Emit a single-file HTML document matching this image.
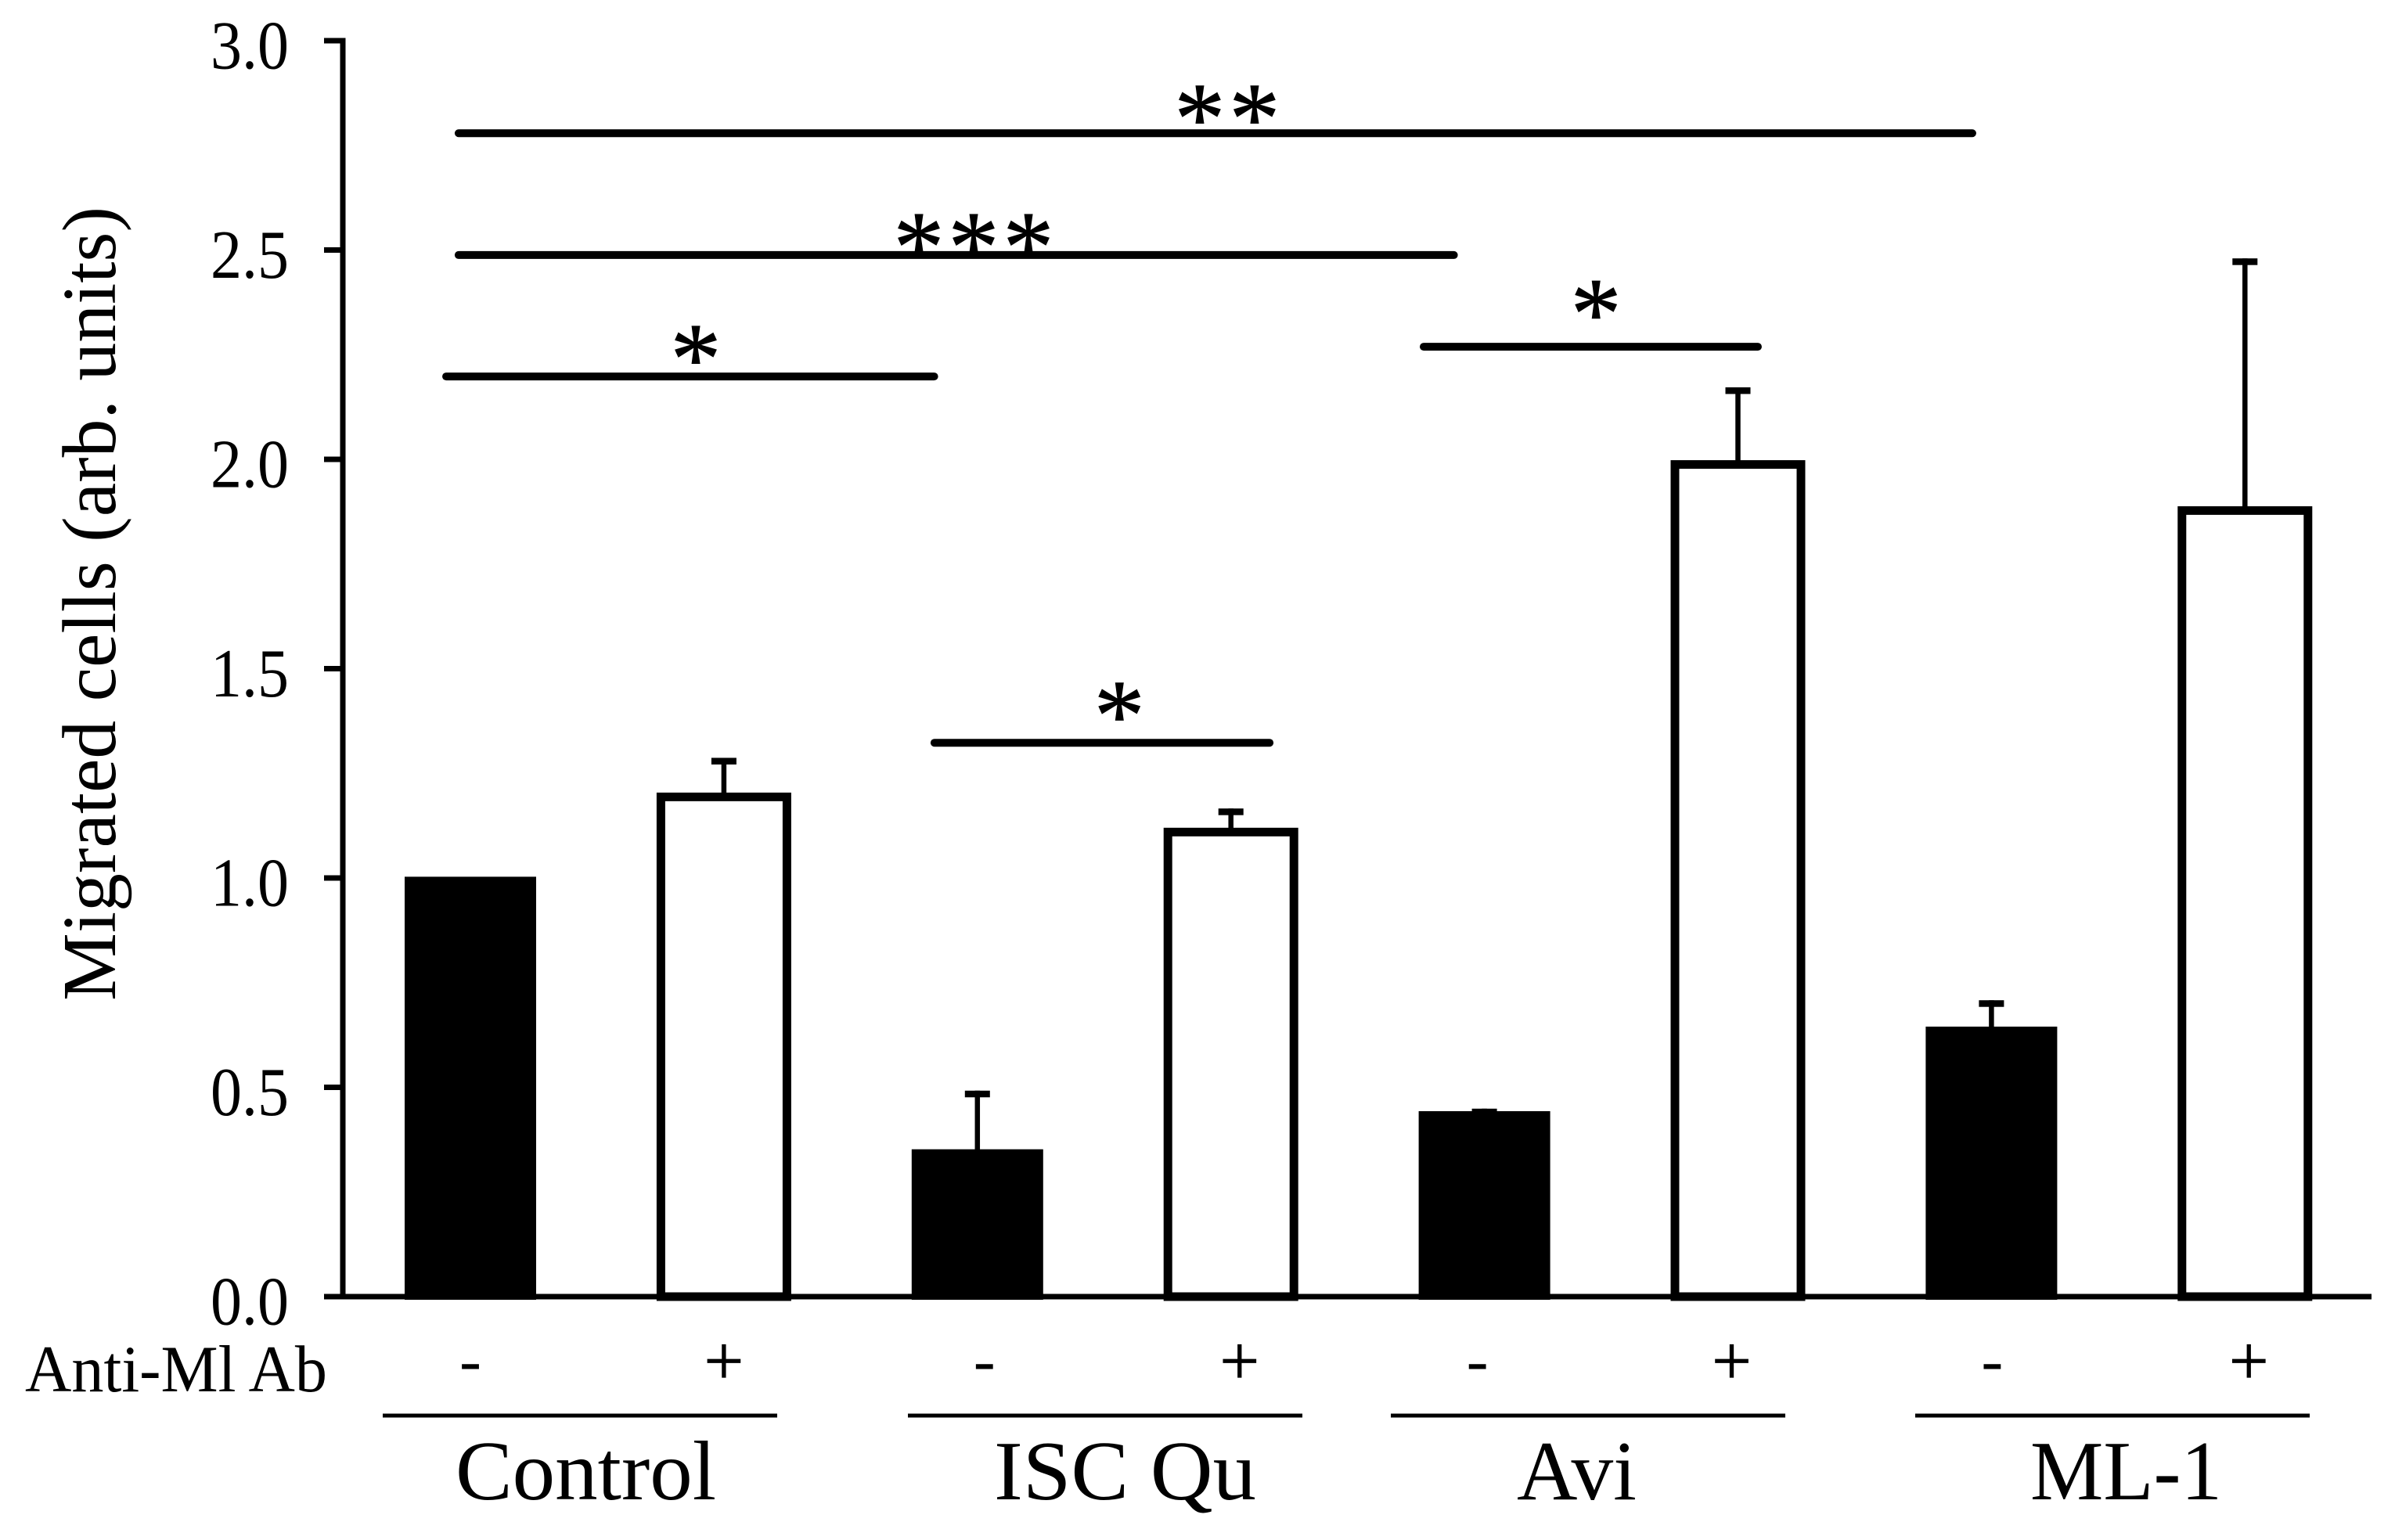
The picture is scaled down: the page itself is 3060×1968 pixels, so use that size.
<!DOCTYPE html>
<html lang="en">
<head>
<meta charset="utf-8">
<title>Migrated cells bar chart</title>
<style>
html,body{margin:0;padding:0;background:#fff;width:3060px;height:1968px;overflow:hidden}
svg{display:block}
text{font-family:"Liberation Serif",serif;fill:#000}
</style>
</head>
<body>
<svg id="chart" xmlns="http://www.w3.org/2000/svg" width="3060" height="1968" viewBox="0 0 3060 1968">
  <rect x="0" y="0" width="3060" height="1968" fill="#fff"/>
  <text transform="translate(147,1279) rotate(-90)" font-size="97" textLength="1015" lengthAdjust="spacingAndGlyphs">Migrated cells (arb. units)</text>
  <text x="32" y="1778" font-size="85" textLength="386" lengthAdjust="spacingAndGlyphs">Anti-Ml Ab</text>
  <g id="plot"></g>
</svg>
<script>
const groupNames = ["Control", "ISC Qu", "Avi", "ML-1"];
const antibodySigns = ["-", "+", "-", "+", "-", "+", "-", "+"];
const barMeans = [1.003, 1.204, 0.352, 1.12, 0.443, 1.998, 0.645, 1.888];
const errorTops = [1.003, 1.287, 0.492, 1.166, 0.449, 2.172, 0.708, 2.48];
const yTickValues = [0, 0.5, 1.0, 1.5, 2.0, 2.5, 3.0];
const yTickLabels = ["0.0", "0.5", "1.0", "1.5", "2.0", "2.5", "3.0"];
const sigStars = ["**", "***", "*", "*", "*"];
const sigLevels = [2.779, 2.488, 2.198, 1.323, 2.269];
const sigFrom = [-0.062, -0.062, -0.111, 1.815, 3.745];
const sigTo = [5.94, 3.895, 1.845, 3.168, 5.094];
const sigStarAt = [2.985, 1.985, 0.889, 2.56, 4.44];
const sigStarLevels = [2.845, 2.538, 2.271, 1.419, 2.379];

const NS = "http://www.w3.org/2000/svg";
const plot = document.getElementById("plot");
const y0 = 1657, pxPerUnit = 535;
const x0 = 601, pxPerBar = 323.9;
const axisX = 438;
function yScale(v){ return y0 - v * pxPerUnit; }
function xScale(i){ return x0 + i * pxPerBar; }
function mk(tag, attrs, text){
  const el = document.createElementNS(NS, tag);
  for (const k in attrs) el.setAttribute(k, attrs[k]);
  if (text !== undefined) el.textContent = text;
  plot.appendChild(el);
  return el;
}

// bars and error bars
barMeans.forEach(function(v, i){
  const cx = xScale(i), top = yScale(v), filled = i % 2 === 0;
  const errY = yScale(errorTops[i]);
  if (errorTops[i] > v) {
    const whisker = mk("line", {x1: cx, x2: cx, y1: errY, y2: top + 2, stroke: "#000", "stroke-width": 6.5});
    
    
    const cap = mk("rect", {x: cx - 16, y: errY, width: 32, height: 8.5, fill: "#000"});
    
    
  }
  let bar;
  if (filled) {
    bar = mk("rect", {x: cx - 84, y: top, width: 168, height: y0 + 4 - top, fill: "#000"});
  } else {
    bar = mk("rect", {x: cx - 80.5, y: top + 5.5, width: 161, height: y0 - top - 5.5, fill: "#fff", stroke: "#000", "stroke-width": 11});
  }
  
  
});

// axes
const yAxis = mk("line", {x1: axisX, x2: axisX, y1: yScale(3) - 3.5, y2: y0 + 3.5, stroke: "#000", "stroke-width": 7});


const xAxis = mk("line", {x1: 414, x2: 3030, y1: y0, y2: y0, stroke: "#000", "stroke-width": 7});



yTickValues.forEach(function(v, i){
  const y = yScale(v);
  const tick = mk("line", {x1: 414, x2: axisX, y1: y, y2: y, stroke: "#000", "stroke-width": 7});
  
  
  const label = mk("text", {x: 269, y: y + 35.5, "font-size": 88, textLength: 100, lengthAdjust: "spacingAndGlyphs"}, yTickLabels[i]);
  
  
});

// antibody signs
const signShift = [0, 0, 9, 11, -9, -8, 1, 5];
antibodySigns.forEach(function(s, i){
  const plus = s === "+";
  const sign = mk("text", {x: xScale(i) + signShift[i], y: plus ? 1769 : 1766, "font-size": plus ? 90 : 84, "text-anchor": "middle", stroke: plus ? "#000" : "none", "stroke-width": plus ? 0.8 : 0}, s);
  
  
});

// group rules and labels
const groupRuleStart = [489, 1160, 1777, 2447];
const groupLabelStart = [582, 1270, 1938, 2594];
const groupLabelLength = [333, 335, 153, 245];
groupNames.forEach(function(name, i){
  const rule = mk("line", {x1: groupRuleStart[i], x2: groupRuleStart[i] + 504, y1: 1809, y2: 1809, stroke: "#000", "stroke-width": 5});
  
  
  const label = mk("text", {x: groupLabelStart[i], y: 1916, "font-size": 108, textLength: groupLabelLength[i], lengthAdjust: "spacingAndGlyphs"}, name);
  
  
});

// significance lines and stars
sigStars.forEach(function(stars, i){
  const y = yScale(sigLevels[i]);
  const line = mk("line", {x1: xScale(sigFrom[i]) + 5, x2: xScale(sigTo[i]) - 5, y1: y, y2: y, stroke: "#000", "stroke-width": 10, "stroke-linecap": "round"});
  
  
  const star = mk("text", {x: xScale(sigStarAt[i]) + 2.5, y: yScale(sigStarLevels[i]) + 60, "font-size": 130, "text-anchor": "middle", "letter-spacing": 5, stroke: "#000", "stroke-width": 1}, stars);
  
  
});
</script>
</body>
</html>
